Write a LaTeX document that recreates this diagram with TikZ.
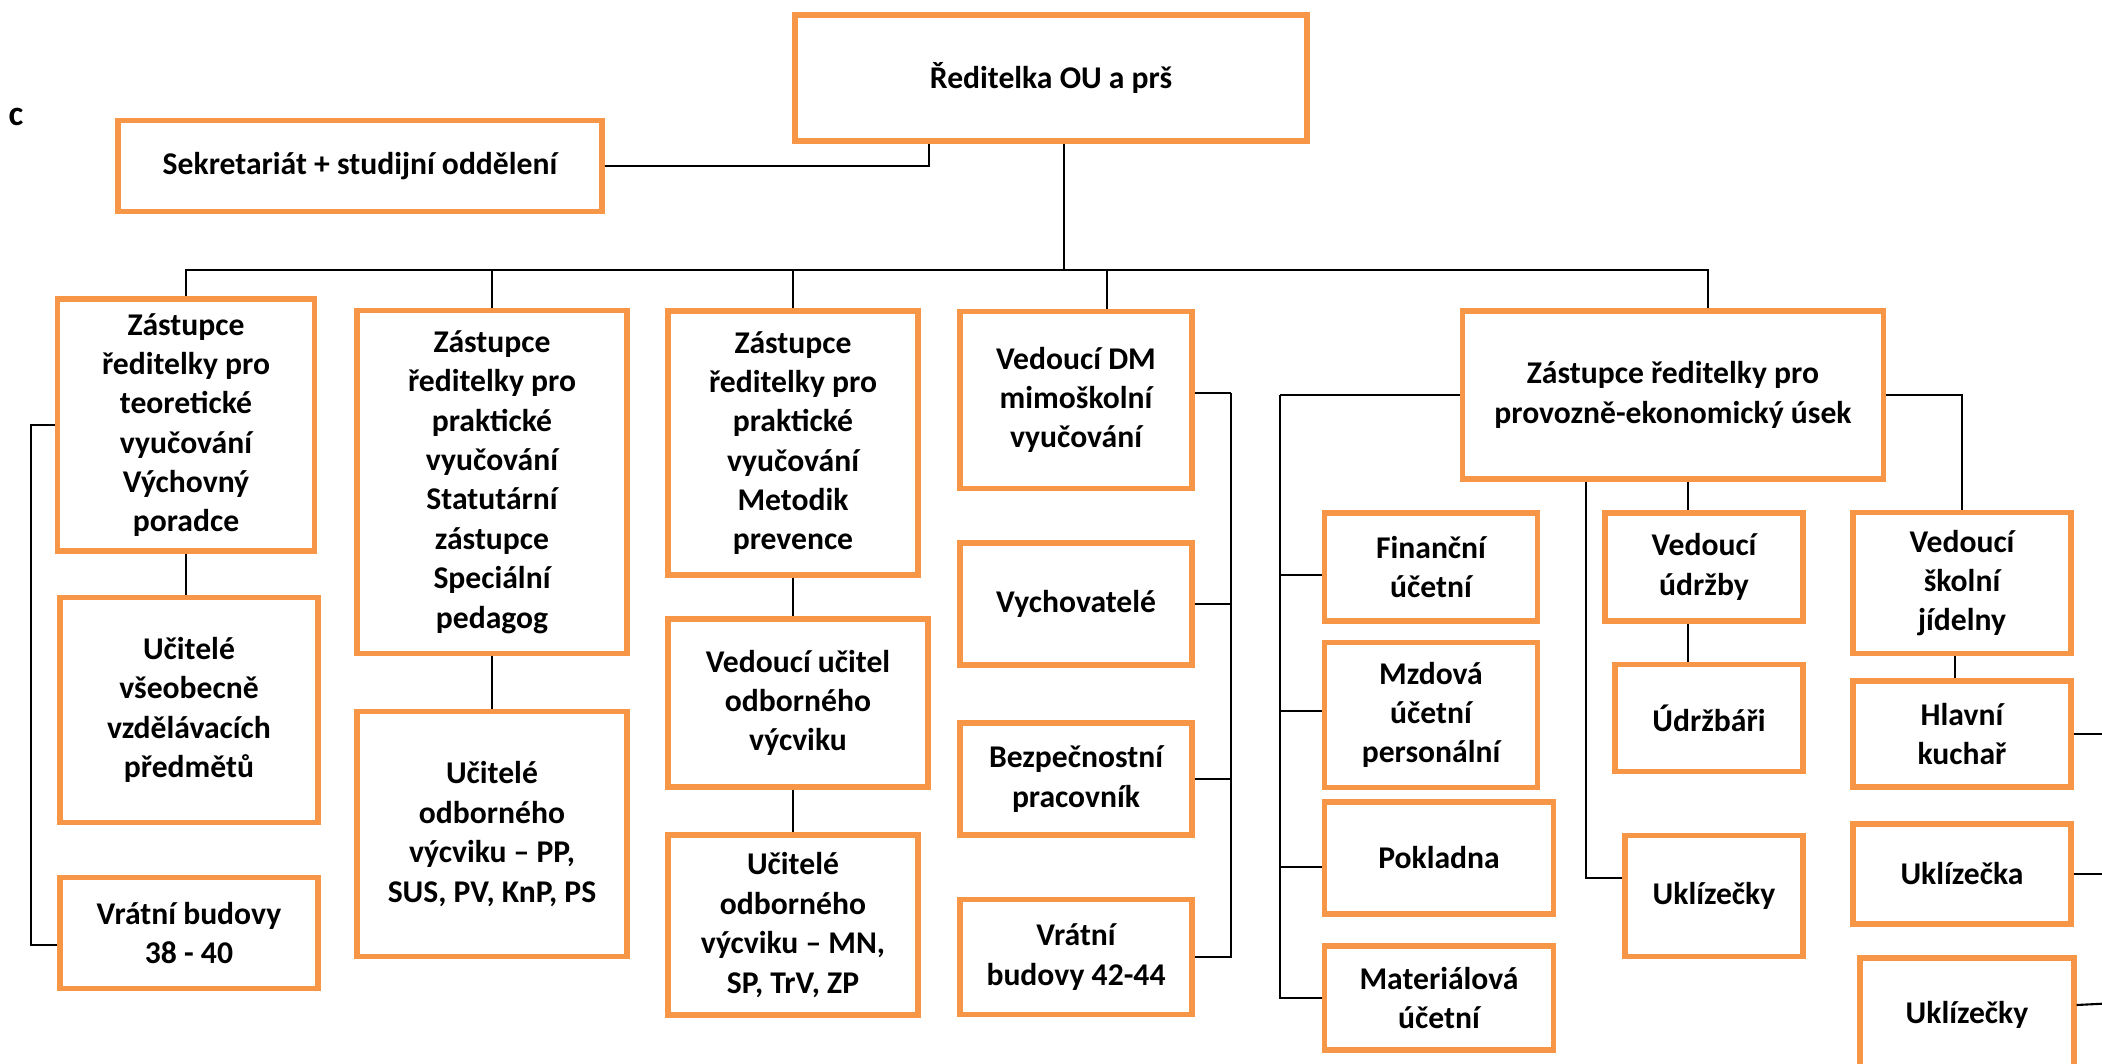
\documentclass[tikz,border=0pt]{standalone}
\usepackage{fontspec}
\setmainfont{Carlito}
\usepackage{xcolor}
\usetikzlibrary{calc}
\definecolor{boxorange}{RGB}{247,150,70}

\begin{document}
\begin{tikzpicture}[x=0.1mm, y=-0.1mm,
        orgbox/.style 2 args={draw=boxorange, line width=1.5pt, fill=white, minimum width=#1, minimum height=#2, align=center, inner sep=1pt, font=\fontsize{9pt}{11.2pt}\selectfont\bfseries},
        wire/.style={draw=black, line width=0.6pt}]

        \useasboundingbox [fill=white] (0,0) rectangle (2102,1064);

        %% Top
        \node [orgbox={51.2mm}{12.6mm}] (director) at (1051,78) {Ředitelka OU a prš};
        \node [orgbox={48.4mm}{9.1mm}] (secretariat) at (360,166) {Sekretariát + studijní oddělení};
        \node [font=\fontsize{10pt}{12pt}\selectfont\bfseries] (corner) at (16,117) {c};

        %% Deputies
        \node [orgbox={25.7mm}{25.2mm}] (deptheory) at (186,425) {Zástupce\\ ředitelky pro\\ teoretické\\ vyučování\\ Výchovný\\ poradce};
        \node [orgbox={27mm}{34.3mm}] (deppractice) at (492,482) {Zástupce\\ ředitelky pro\\ praktické\\ vyučování\\ Statutární\\ zástupce\\ Speciální\\ pedagog};
        \node [orgbox={25mm}{26.4mm}] (depmethod) at (793,443) {Zástupce\\ ředitelky pro\\ praktické\\ vyučování\\ Metodik\\ prevence};
        \node [orgbox={23.2mm}{17.7mm}] (headdm) at (1076,400) {Vedoucí DM\\ mimoškolní\\ vyučování};
        \node [orgbox={42.1mm}{16.8mm}] (depecon) at (1673,395) {Zástupce ředitelky pro\\ provozně-ekonomický úsek};

        %% Teaching staff
        \node [orgbox={25.8mm}{22.5mm}] (teachgen) at (189,710) {Učitelé\\ všeobecně\\ vzdělávacích\\ předmětů};
        \node [orgbox={25.8mm}{11.1mm}] (gate1) at (189,933) {Vrátní budovy\\ 38 - 40};
        \node [orgbox={27mm}{24.5mm}] (teachvoc1) at (492,834) {Učitelé\\ odborného\\ výcviku – PP,\\ SUS, PV, KnP, PS};
        \node [orgbox={26mm}{16.8mm}] (headvoc) at (798,703) {Vedoucí učitel\\ odborného\\ výcviku};
        \node [orgbox={25mm}{18mm}] (teachvoc2) at (793,925) {Učitelé\\ odborného\\ výcviku – MN,\\ SP, TrV, ZP};

        %% Dormitory
        \node [orgbox={23.2mm}{12.2mm}] (educators) at (1076,604) {Vychovatelé};
        \node [orgbox={23.2mm}{11.2mm}] (safety) at (1076,779) {Bezpečnostní\\ pracovník};
        \node [orgbox={23.2mm}{11.5mm}] (gate2) at (1076,957) {Vrátní\\ budovy 42-44};

        %% Economy
        \node [orgbox={21.3mm}{10.8mm}] (finance) at (1431,567) {Finanční\\ účetní};
        \node [orgbox={21.3mm}{14.5mm}] (payroll) at (1431,715) {Mzdová\\ účetní\\ personální};
        \node [orgbox={22.9mm}{11.2mm}] (cashdesk) at (1439,858) {Pokladna};
        \node [orgbox={22.9mm}{10.4mm}] (material) at (1439,998) {Materiálová\\ účetní};
        \node [orgbox={19.8mm}{10.8mm}] (headmaint) at (1704,567) {Vedoucí\\ údržby};
        \node [orgbox={18.8mm}{10.7mm}] (maintainers) at (1709,718) {Údržbáři};
        \node [orgbox={17.8mm}{12.1mm}] (cleanersA) at (1714,896) {Uklízečky};
        \node [orgbox={21.8mm}{14.1mm}] (headcanteen) at (1962,583) {Vedoucí\\ školní\\ jídelny};
        \node [orgbox={21.8mm}{10.6mm}] (chef) at (1962,734) {Hlavní\\ kuchař};
        \node [orgbox={21.8mm}{10mm}] (cleaner) at (1962,874) {Uklízečka};
        \node [orgbox={21.4mm}{11.4mm}] (cleanersB) at (1967,1015) {Uklízečky};

        %% Lines from the top
        \coordinate (busmid) at (1064,270);
        \draw [wire] (secretariat.east) -| ($(director.south west)+(137,0)$);
        \draw [wire] (busmid |- director.south) -- (busmid);
        \draw [wire] (deptheory.north) -- (deptheory.north |- busmid) -- ($(depecon.north |- busmid)+(35,0)$) -- ($(depecon.north)+(35,0)$);
        \draw [wire] (deppractice.north) -- (deppractice.north |- busmid);
        \draw [wire] (depmethod.north) -- (depmethod.north |- busmid);
        \draw [wire] ($(headdm.north)+(31,0)$) -- ($(headdm.north |- busmid)+(31,0)$);

        %% Teaching branches
        \draw [wire] (deptheory.west) -- ++(-24,0) |- ($(gate1.west)+(0,12)$);
        \draw [wire] (deptheory.south) -- (deptheory.south |- teachgen.north);
        \draw [wire] (deppractice.south) -- (teachvoc1.north);
        \draw [wire] (depmethod.south) -- (depmethod.south |- headvoc.north);
        \draw [wire] (teachvoc2.north |- headvoc.south) -- (teachvoc2.north);

        %% Dormitory rail
        \draw [wire] ($(headdm.east)+(0,-7)$) -- ++(36,0) coordinate (dmrail);
        \foreach \n in {educators, safety, gate2}
            \draw [wire] (\n.east) -| (dmrail);

        %% Economy rails
        \draw [wire] (depecon.west) -- ++(-180,0) coordinate (ecorail);
        \draw [wire] ($(finance.west)+(0,8)$) -| (ecorail);
        \draw [wire] ($(payroll.west)+(0,-4)$) -| (ecorail);
        \draw [wire] ($(cashdesk.west)+(0,9)$) -| (ecorail);
        \draw [wire] (material.west) -| (ecorail);
        \draw [wire] ($(depecon.south west)+(126,0)$) |- ($(cleanersA.west)+(0,-18)$);
        \draw [wire] ($(depecon.south)+(15,0)$) coordinate (mainttop) -- (mainttop |- headmaint.north);
        \draw [wire] (mainttop |- headmaint.south) -- (mainttop |- maintainers.north);
        \draw [wire] (depecon.east) -| (headcanteen.north);
        \draw [wire] ($(headcanteen.south)+(-7,0)$) -- ($(chef.north)+(-7,0)$);

        %% Stubs leaving the page
        \draw [wire] (chef.east) -- ++(40,0);
        \draw [wire] (cleaner.east) -- ++(40,0);
        \draw [wire] ($(cleanersB.east)+(0,-10)$) -- ++(40,-2);

\end{tikzpicture}
\end{document}
